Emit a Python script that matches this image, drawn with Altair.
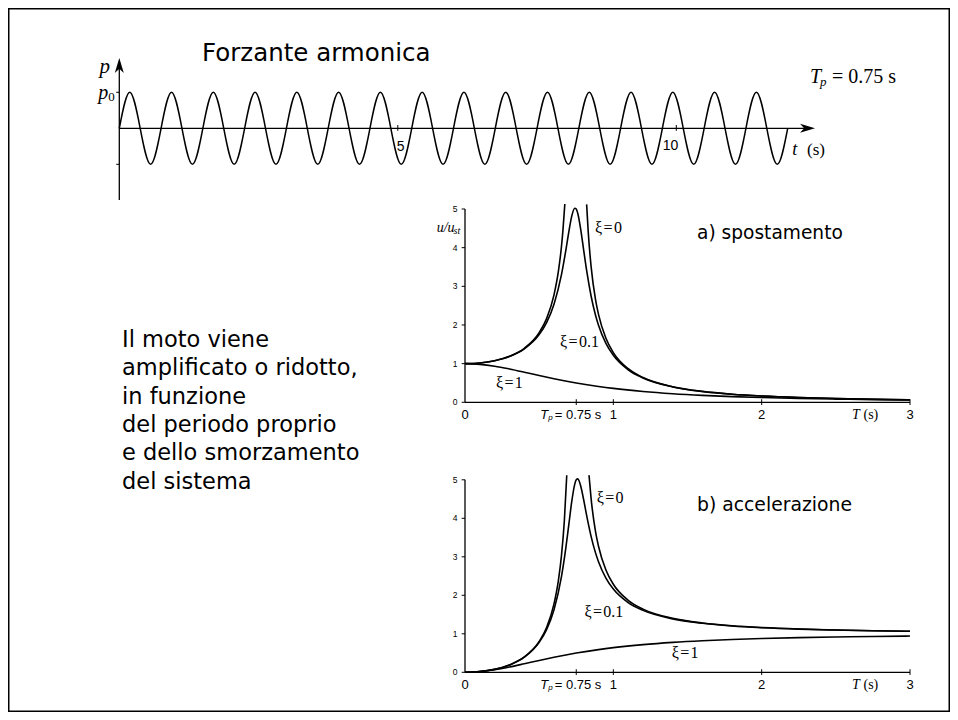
import altair as alt
import pandas as pd

# ================= data =================
# harmonic forcing p(t) (in units of p0), one value every quarter of Tp = 0.75 s
force_t = [
    0.0, 0.1875, 0.375, 0.5625, 0.75, 0.9375, 1.125, 1.3125,
    1.5, 1.6875, 1.875, 2.0625, 2.25, 2.4375, 2.625, 2.8125,
    3.0, 3.1875, 3.375, 3.5625, 3.75, 3.9375, 4.125, 4.3125,
    4.5, 4.6875, 4.875, 5.0625, 5.25, 5.4375, 5.625, 5.8125,
    6.0, 6.1875, 6.375, 6.5625, 6.75, 6.9375, 7.125, 7.3125,
    7.5, 7.6875, 7.875, 8.0625, 8.25, 8.4375, 8.625, 8.8125,
    9.0, 9.1875, 9.375, 9.5625, 9.75, 9.9375, 10.125, 10.3125,
    10.5, 10.6875, 10.875, 11.0625, 11.25, 11.4375, 11.625, 11.8125,
    12.0,
]
force_p = [
    0, 1, 0, -1, 0, 1, 0, -1,
    0, 1, 0, -1, 0, 1, 0, -1,
    0, 1, 0, -1, 0, 1, 0, -1,
    0, 1, 0, -1, 0, 1, 0, -1,
    0, 1, 0, -1, 0, 1, 0, -1,
    0, 1, 0, -1, 0, 1, 0, -1,
    0, 1, 0, -1, 0, 1, 0, -1,
    0, 1, 0, -1, 0, 1, 0, -1,
    0,
]
force_tick_t = [5, 10]
force_level_p = [1, -1]

# response curves versus the natural period T (s)
T_damped = [0, 0.1, 0.2, 0.3, 0.4, 0.5, 0.55, 0.6, 0.65, 0.68, 0.7, 0.72, 0.74, 0.75, 0.76,
            0.78, 0.8, 0.82, 0.85, 0.88, 0.9, 0.95, 1.0, 1.1, 1.2, 1.4, 1.6, 1.8, 2.0,
            2.25, 2.5, 2.75, 3.0]
disp_xi01 = [1.000, 1.018, 1.075, 1.185, 1.382, 1.750, 2.062, 2.538, 3.297, 3.936, 4.408,
             4.822, 5.020, 5.000, 4.892, 4.476, 3.938, 3.410, 2.750, 2.253, 1.995, 1.526,
             1.216, 0.842, 0.628, 0.398, 0.280, 0.209, 0.163, 0.125, 0.099, 0.080, 0.067]
acc_xi01 = [0.0, 0.018, 0.076, 0.190, 0.393, 0.778, 1.109, 1.624, 2.476, 3.236, 3.840,
            4.444, 4.887, 5.000, 5.023, 4.841, 4.481, 4.076, 3.532, 3.102, 2.873, 2.448,
            2.162, 1.811, 1.608, 1.387, 1.273, 1.204, 1.159, 1.121, 1.097, 1.078, 1.066]

T_heavy = [0, 0.1, 0.2, 0.3, 0.4, 0.5, 0.6, 0.75, 0.9, 1.0, 1.2, 1.4, 1.6, 1.8, 2.0,
           2.25, 2.5, 2.75, 3.0]
disp_xi1 = [1.0, 0.982, 0.934, 0.862, 0.779, 0.692, 0.610, 0.500, 0.410, 0.360, 0.281,
            0.223, 0.180, 0.148, 0.123, 0.100, 0.083, 0.069, 0.059]
acc_xi1 = [0.0, 0.018, 0.066, 0.138, 0.222, 0.308, 0.390, 0.500, 0.590, 0.640, 0.719,
           0.777, 0.820, 0.852, 0.877, 0.900, 0.917, 0.931, 0.941]

T_disp_xi0_left = [0, 0.1, 0.2, 0.3, 0.4, 0.5, 0.55, 0.6, 0.63, 0.65, 0.66, 0.673]
disp_xi0_left = [1.0, 1.018, 1.077, 1.190, 1.398, 1.800, 2.164, 2.778, 3.397, 4.018, 4.433, 5.13]
T_disp_xi0_right = [0.82, 0.83, 0.85, 0.88, 0.9, 0.95, 1.0, 1.1, 1.2, 1.4, 1.6, 1.8, 2.0,
                    2.25, 2.5, 2.75, 3.0]
disp_xi0_right = [5.12, 4.45, 3.516, 2.655, 2.273, 1.655, 1.286, 0.869, 0.641, 0.403, 0.282,
                  0.210, 0.164, 0.125, 0.099, 0.080, 0.067]

T_acc_xi0_left = [0, 0.1, 0.2, 0.3, 0.4, 0.5, 0.55, 0.6, 0.63, 0.65, 0.67, 0.686]
acc_xi0_left = [0.0, 0.018, 0.077, 0.190, 0.398, 0.800, 1.164, 1.778, 2.397, 3.018, 3.951, 5.12]
T_acc_xi0_right = [0.836, 0.85, 0.88, 0.9, 0.95, 1.0, 1.1, 1.2, 1.4, 1.6, 1.8, 2.0, 2.25,
                   2.5, 2.75, 3.0]
acc_xi0_right = [5.12, 4.516, 3.655, 3.273, 2.655, 2.286, 1.869, 1.641, 1.403, 1.282, 1.210,
                 1.164, 1.125, 1.099, 1.080, 1.067]

period_ticks = [0.75, 1, 2, 3]
period_labels = [0, 1, 2, 3]
ratio_ticks = [0, 1, 2, 3, 4, 5]

paragraph = ["Il moto viene", "amplificato o ridotto,", "in funzione",
             "del periodo proprio", "e dello smorzamento", "del sistema"]

# ================= styling =================
W, H = 942, 704
SERIF = "Liberation Serif"
SANS = "Liberation Sans"
HAND = "DejaVu Sans"


def sc(domain, rng):
    return alt.Scale(domain=domain, range=rng, nice=False, zero=False)


def enc(xs, ys):
    return dict(x=alt.X("x:Q", scale=xs, axis=None), y=alt.Y("y:Q", scale=ys, axis=None))


def segs(df, xs, ys, width):
    return alt.Chart(df).mark_rule(color="black", strokeWidth=width).encode(
        x=alt.X("x:Q", scale=xs, axis=None), x2="x2:Q",
        y=alt.Y("y:Q", scale=ys, axis=None), y2="y2:Q")


def texts(df, xs, ys, **mk):
    mk.setdefault("color", "black")
    mk.setdefault("baseline", "middle")
    return alt.Chart(df).mark_text(**mk).encode(text="txt:N", **enc(xs, ys))


def label(txt, x, y, xs, ys, **mk):
    return texts(pd.DataFrame({"x": [x], "y": [y], "txt": [txt]}), xs, ys, **mk)


layers = []

# ---------------- top: harmonic forcing ----------------
xs_t = sc([0, 12], [111.3, 779.7])
ys_t = sc([-1, 1], [156.3, 84.3])

layers.append(alt.Chart(pd.DataFrame({"x": force_t, "y": force_p}))
              .mark_line(interpolate="natural", color="black", strokeWidth=1.5)
              .encode(**enc(xs_t, ys_t)))
layers.append(segs(pd.DataFrame({"x": [0, 0], "x2": [12.35, 0],
                                 "y": [0, -1.99], "y2": [0, 1.85]}), xs_t, ys_t, 1.3))
tick_df = pd.concat([
    pd.DataFrame({"x": -0.055, "x2": 0.0, "y": force_level_p, "y2": force_level_p}),
    pd.DataFrame({"x": force_tick_t, "x2": force_tick_t, "y": -0.07, "y2": 0.09}),
])
layers.append(segs(tick_df, xs_t, ys_t, 1.0))
layers.append(alt.Chart(pd.DataFrame({"x": [12.49], "y": [0]})).mark_point(
    shape="M0,0 L-1,-0.3 L-0.72,0 L-1,0.3 Z", filled=True, size=900, color="black",
    opacity=1, strokeWidth=0).encode(**enc(xs_t, ys_t)))
layers.append(alt.Chart(pd.DataFrame({"x": [0], "y": [1.953]})).mark_point(
    shape="M0,0 L-0.3,1 L0,0.72 L0.3,1 Z", filled=True, size=900, color="black",
    opacity=1, strokeWidth=0).encode(**enc(xs_t, ys_t)))
layers.append(label("5", force_tick_t[0], 0, xs_t, ys_t, font=SANS, fontSize=14,
                    align="left", dx=-1, dy=18.5))
layers.append(label("10", force_tick_t[1], 0, xs_t, ys_t, font=SANS, fontSize=14,
                    align="right", dx=2, dy=18))
layers.append(label("t", 12, 0, xs_t, ys_t, font=SERIF, fontSize=18, fontStyle="italic",
                    align="left", dx=4.6, dy=21.7))
layers.append(label("(s)", 12, 0, xs_t, ys_t, font=SERIF, fontSize=17,
                    align="left", dx=19.3, dy=21.7))
layers.append(label("p", 0, 1.953, xs_t, ys_t, font=SERIF, fontSize=21, fontStyle="italic",
                    align="right", dx=-9.3, dy=9))
layers.append(label("p", 0, 1, xs_t, ys_t, font=SERIF, fontSize=20, fontStyle="italic",
                    align="right", dx=-11, dy=1))
layers.append(label("0", 0, 1, xs_t, ys_t, font=SERIF, fontSize=13,
                    align="left", dx=-11, dy=4.5))
layers.append(label("Forzante armonica", 1.485, 2.064, xs_t, ys_t, font=HAND, fontSize=24.5,
                    align="left"))
layers.append(label("T", 12.40, 1.425, xs_t, ys_t, font=SERIF, fontSize=20,
                    fontStyle="italic", align="left"))
layers.append(label("p", 12.40, 1.425, xs_t, ys_t, font=SERIF, fontSize=13,
                    fontStyle="italic", align="left", dx=10, dy=5))
layers.append(label("= 0.75 s", 12.40, 1.425, xs_t, ys_t, font=SERIF, fontSize=20,
                    align="left", dx=22))

# ---------------- left paragraph ----------------
xs_p = sc([0, 1], [114, 400])
ys_p = sc([0, 5], [332, 473.5])
layers.append(texts(pd.DataFrame({"x": 0, "y": list(range(len(paragraph))), "txt": paragraph}),
                    xs_p, ys_p, font=HAND, fontSize=22.5, align="left"))


# ---------------- response panels ----------------
def curves_df(parts):
    return pd.concat([pd.DataFrame({"T": T, "v": v, "s": name}) for name, T, v in parts],
                     ignore_index=True)


def panel(y_rng, curves, title, title_v, title_size, xi_T, xi_v, with_ylabel):
    xs = sc([0, 3], [457, 902])
    ys = sc([0, 5], y_rng)
    L = []
    L.append(alt.Chart(curves).mark_line(interpolate="monotone", color="black",
                                         strokeWidth=1.6)
             .encode(x=alt.X("T:Q", scale=xs, axis=None),
                     y=alt.Y("v:Q", scale=ys, axis=None), detail="s:N"))
    L.append(segs(pd.DataFrame({"x": [0, 0], "x2": [3, 0], "y": [0, 0], "y2": [0, 5]}),
                  xs, ys, 1.3))
    tk = pd.concat([
        pd.DataFrame({"x": -0.0225, "x2": 0.0, "y": ratio_ticks, "y2": ratio_ticks}),
        pd.DataFrame({"x": period_ticks, "x2": period_ticks, "y": -0.07, "y2": 0.08}),
    ])
    L.append(segs(tk, xs, ys, 1.0))
    L.append(texts(pd.DataFrame({"x": period_labels, "y": 0,
                                 "txt": [str(v) for v in period_labels]}),
                   xs, ys, font=SANS, fontSize=13, dy=13))
    L.append(texts(pd.DataFrame({"x": 0, "y": ratio_ticks,
                                 "txt": [str(v) for v in ratio_ticks]}),
                   xs, ys, font=SANS, fontSize=8.5, align="right", dx=-7.5))
    L.append(label("T", 0.75, 0, xs, ys, font=SANS, fontSize=13, fontStyle="italic",
                   align="left", dx=-36, dy=13))
    L.append(label("p", 0.75, 0, xs, ys, font=SANS, fontSize=8, fontStyle="italic",
                   align="left", dx=-28, dy=16))
    L.append(label("= 0.75 s", 0.75, 0, xs, ys, font=SANS, fontSize=13,
                   align="left", dx=-21.5, dy=13))
    L.append(label("T", 3, 0, xs, ys, font=SERIF, fontSize=14, fontStyle="italic",
                   align="left", dx=-58, dy=12.5))
    L.append(label("(s)", 3, 0, xs, ys, font=SERIF, fontSize=14,
                   align="left", dx=-46.5, dy=12.5))
    L.append(texts(pd.DataFrame({"x": xi_T, "y": xi_v,
                                 "txt": ["ξ\u200a=\u200a0", "ξ\u200a=\u200a0.1", "ξ\u200a=\u200a1"]}),
                   xs, ys, font=SERIF, fontSize=16, align="left"))
    L.append(label(title, 1.564, title_v, xs, ys, font=HAND, fontSize=title_size, align="left"))
    if with_ylabel:
        L.append(label("u/u", 0, 5, xs, ys, font=SERIF, fontSize=14, fontStyle="italic",
                       align="left", dx=-28.3, dy=19.3))
        L.append(label("st", 0, 5, xs, ys, font=SERIF, fontSize=10, fontStyle="italic",
                       align="left", dx=-11.5, dy=22))
    return L


disp_curves = curves_df([
    ("xi0_left", T_disp_xi0_left, disp_xi0_left),
    ("xi0_right", T_disp_xi0_right, disp_xi0_right),
    ("xi01", T_damped, disp_xi01),
    ("xi1", T_heavy, disp_xi1),
])
acc_curves = curves_df([
    ("xi0_left", T_acc_xi0_left, acc_xi0_left),
    ("xi0_right", T_acc_xi0_right, acc_xi0_right),
    ("xi01", T_damped, acc_xi01),
    ("xi1", T_heavy, acc_xi1),
])

layers += panel([394.3, 201], disp_curves, "a) spostamento", 4.37, 18.6,
                [0.877, 0.641, 0.209], [4.51, 1.57, 0.51], True)
layers += panel([664.3, 471.8], acc_curves, "b) accelerazione", 4.35, 18.8,
                [0.888, 0.805, 1.394], [4.52, 1.57, 0.49], False)

chart = (
    alt.layer(*layers)
    .resolve_scale(x="independent", y="independent")
    .properties(width=W, height=H, autosize=alt.AutoSizeParams(type="none"), padding=0)
    .configure_view(stroke="black", strokeWidth=3)
)

chart.save("out.html", embed_options={"renderer": "svg", "actions": False})
